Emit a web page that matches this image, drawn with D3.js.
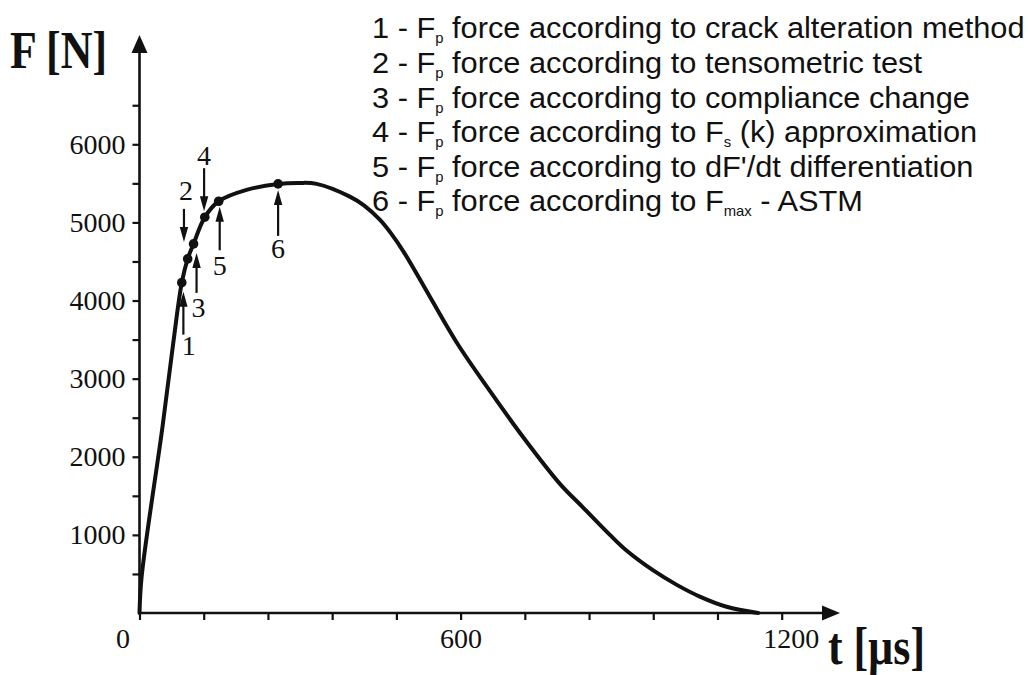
<!DOCTYPE html>
<html>
<head>
<meta charset="utf-8">
<script src="https://cdn.jsdelivr.net/npm/d3@7"></script>
<style>
  html, body { margin: 0; padding: 0; background: #fff; }
  svg { display: block; }
</style>
</head>
<body>
<svg id="chart" width="1030" height="675"></svg>
<script>
// ---- data ----
const curveT = [0, 4, 43, 63, 79, 90, 101, 122, 148, 200, 259, 300, 331, 393, 420, 449, 470, 493, 530, 593, 655, 717, 786, 829, 879, 910, 960, 1004, 1047, 1097, 1156];
const curveF = [0, 465, 2385, 3453, 4229, 4533, 4725, 5067, 5271, 5416, 5493, 5506, 5493, 5330, 5215, 5035, 4860, 4630, 4200, 3460, 2840, 2250, 1650, 1350, 1000, 800, 545, 360, 210, 80, 0];
const markLabels = ["1", "2", "3", "4", "5", "6"];
const markT = [79, 90, 101, 122, 148, 259];
const markF = [4229, 4533, 4725, 5067, 5271, 5493];
const markDir = ["up", "down", "up", "down", "up", "up"];
const xTicks = [0, 120, 240, 360, 480, 600, 720, 840, 960, 1080, 1200];
const xTickLabels = [0, 600, 1200];
const yTicks = [500, 1000, 1500, 2000, 2500, 3000, 3500, 4000, 4500, 5000, 5500, 6000, 6500];
const yTickLabels = [1000, 2000, 3000, 4000, 5000, 6000];
const legendItems = [
  ["1 - F", "p", " force according to crack alteration method"],
  ["2 - F", "p", " force according to tensometric test"],
  ["3 - F", "p", " force according to compliance change"],
  ["4 - F", "p", " force according to F", "s", " (k) approximation"],
  ["5 - F", "p", " force according to dF'/dt differentiation"],
  ["6 - F", "p", " force according to F", "max", " - ASTM"]
];
const xTitle = "t [µs]";
const yTitle = "F [N]";

// ---- drawing ----
const svg = d3.select("#chart");
const ink = "#111";
const serif = "'Liberation Serif', 'Times New Roman', serif";
const sans = "'Liberation Sans', Arial, sans-serif";

const x = d3.scaleLinear().domain([0, 1200]).range([139.5, 781.7]);
const y = d3.scaleLinear().domain([0, 6000]).range([613, 144.3]);

svg.append("rect").attr("width", 1030).attr("height", 675).attr("fill", "#fff");

// x axis
const xAxis = d3.axisBottom(x).tickValues(xTicks).tickSize(7).tickPadding(8)
  .tickFormat(d => xTickLabels.includes(d) ? String(d) : "");
const gx = svg.append("g").attr("transform", `translate(0,${y(0)})`).call(xAxis);
gx.select(".domain").remove();
gx.selectAll(".tick line").attr("stroke", ink).attr("stroke-width", 2.2);
gx.selectAll(".tick text").filter(d => !xTickLabels.includes(d)).remove();
gx.selectAll(".tick text").attr("fill", ink).style("font-family", serif).style("font-size", "28px");
gx.selectAll(".tick text").filter(d => d === 0).attr("dx", -17);
gx.selectAll(".tick text").filter(d => d === 1200).attr("dx", 9);

// y axis
const yAxis = d3.axisLeft(y).tickValues(yTicks).tickSize(7).tickPadding(7)
  .tickFormat(d => yTickLabels.includes(d) ? String(d) : "");
const gy = svg.append("g").attr("transform", `translate(${x(0)},0)`).call(yAxis);
gy.select(".domain").remove();
gy.selectAll(".tick line").attr("stroke", ink).attr("stroke-width", 2.2);
gy.selectAll(".tick text").filter(d => !yTickLabels.includes(d)).remove();
gy.selectAll(".tick text").attr("fill", ink).style("font-family", serif).style("font-size", "28px");

// axis lines with arrows
const x0 = x(0), y0 = y(0);
svg.append("line").attr("x1", x0).attr("y1", y0).attr("x2", 826).attr("y2", y0)
  .attr("stroke", ink).attr("stroke-width", 2.6);
svg.append("path").attr("d", `M840,${y0} L822,${y0 - 7.5} L822,${y0 + 7.5} Z`).attr("fill", ink);
svg.append("line").attr("x1", x0).attr("y1", y0).attr("x2", x0).attr("y2", 50)
  .attr("stroke", ink).attr("stroke-width", 2.6);
svg.append("path").attr("d", `M${x0},35 L${x0 - 8},53 L${x0 + 8},53 Z`).attr("fill", ink);

// axis titles
svg.append("text").attr("x", 10).attr("y", 68).text(yTitle)
  .attr("fill", ink).style("font-family", serif).style("font-weight", "bold").style("font-size", "52px")
  .attr("textLength", 97).attr("lengthAdjust", "spacingAndGlyphs");
svg.append("text").attr("x", 828).attr("y", 664).text(xTitle)
  .attr("fill", ink).style("font-family", serif).style("font-weight", "bold").style("font-size", "52px")
  .attr("textLength", 97).attr("lengthAdjust", "spacingAndGlyphs");

// curve
const pts = curveT.map((t, i) => [t, curveF[i]]);
const line = d3.line().x(d => x(d[0])).y(d => y(d[1])).curve(d3.curveCatmullRom.alpha(0.5));
svg.append("path").attr("d", line(pts)).attr("fill", "none").attr("stroke", ink)
  .attr("stroke-width", 4).attr("stroke-linejoin", "round").attr("stroke-linecap", "round");

// markers, arrows and numbers
const annot = [
  { dx: 1.6, tip: 9, tail: 52, ldx: 7, lb: 72 },
  { dx: -3.7, tip: -17, tail: -50, ldx: -1.7, lb: -59 },
  { dx: 3, tip: 9, tail: 49, ldx: 5, lb: 73 },
  { dx: -0.7, tip: -6, tail: -49, ldx: -0.7, lb: -52 },
  { dx: 1, tip: 5.4, tail: 49, ldx: 1, lb: 74 },
  { dx: 0, tip: 6, tail: 52, ldx: 0, lb: 74 }
];
markT.forEach((t, i) => {
  const px = x(t), py = y(markF[i]);
  const a = annot[i];
  const ax = px + a.dx, tipY = py + a.tip, tailY = py + a.tail;
  const s = markDir[i] === "up" ? 1 : -1;
  svg.append("line").attr("x1", ax).attr("x2", ax).attr("y1", tailY).attr("y2", tipY + s * 12)
    .attr("stroke", ink).attr("stroke-width", 2.2);
  svg.append("path").attr("d", `M${ax},${tipY} L${ax - 4.2},${tipY + s * 15} L${ax + 4.2},${tipY + s * 15} Z`)
    .attr("fill", ink);
  svg.append("text").attr("x", px + a.ldx).attr("y", py + a.lb).attr("text-anchor", "middle")
    .text(markLabels[i]).attr("fill", ink).style("font-family", serif).style("font-size", "28px");
  svg.append("circle").attr("cx", px).attr("cy", py).attr("r", 4.8).attr("fill", ink);
});

// legend
const lg = svg.append("g");
legendItems.forEach((parts, i) => {
  const tx = lg.append("text").attr("x", 0).attr("y", 38.5 + i * 34.6)
    .attr("fill", ink).style("font-family", sans).style("font-size", "29px");
  parts.forEach((p, j) => {
    if (j % 2 === 1) {
      tx.append("tspan").text(p).style("font-size", "14px").attr("dy", 5);
    } else {
      tx.append("tspan").text(p).attr("dy", j === 0 ? 0 : -5);
    }
  });
});
const w1 = lg.select("text").node().getComputedTextLength();
const k = 653 / w1;
lg.attr("transform", `translate(372,0) scale(${k},1)`);
</script>
</body>
</html>
